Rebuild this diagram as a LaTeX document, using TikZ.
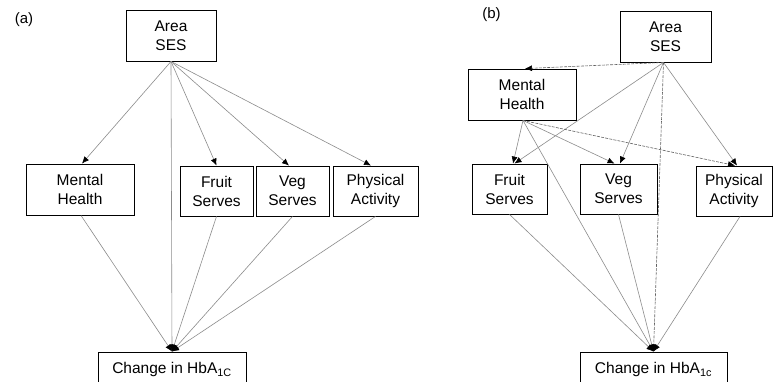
\documentclass[tikz,border=0pt]{standalone}
\usepackage{fontspec}
\setmainfont{Liberation Sans}
\usetikzlibrary{arrows.meta}
\begin{document}
\begin{tikzpicture}[x=1pt,y=-1pt,
  box/.style={draw=black,line width=0.9pt,fill=white,align=center,inner sep=0pt,
    font=\fontsize{15.5}{19}\selectfont,minimum height=51pt},
  edge/.style={draw=black!45,line width=0.6pt,-{Latex[length=7pt,width=6pt,color=black]}},
  dedge/.style={edge,draw=black!62,dash pattern=on 3pt off 1.2pt},
  lab/.style={font=\fontsize{15}{17}\selectfont,inner sep=0pt}]
\useasboundingbox (0,0) rectangle (773,381);
\clip (0,0) rectangle (773,381);
\fill[white] (0,0) rectangle (773,381);
% ---------- panel (a)
\node[lab] (la) at (24,20) {(a)};
\node[box,minimum width=90pt] (ASa) at (171,35.5) {Area\\SES};
\node[box,minimum width=108pt,minimum height=51pt] (MHa) at (80,189.5) {Mental\\Health};
\node[box,minimum width=73pt,minimum height=50pt] (FSa) at (216.5,191) {Fruit\\Serves};
\node[box,minimum width=73pt,minimum height=50pt] (VSa) at (292.5,191) {Veg\\Serves};
\node[box,minimum width=85pt,minimum height=50pt] (PAa) at (375.5,191) {Physical\\Activity};
\node[box,minimum width=148pt] (CHa) at (172,377.5) {Change in HbA\textsubscript{1C}\\\mbox{}};
\draw[edge] (ASa.south) -- ([xshift=2pt]MHa.north);
\draw[edge] (ASa.south) -- (FSa.north);
\draw[edge] (ASa.south) -- ([xshift=-3.5pt]VSa.north);
\draw[edge] (ASa.south) -- ([xshift=-4.5pt]PAa.north);
\draw[edge] (ASa.south) -- (CHa.north);
\draw[edge] ([xshift=1pt]MHa.south) -- (CHa.north);
\draw[edge] (FSa.south) -- (CHa.north);
\draw[edge] (VSa.south) -- (CHa.north);
\draw[edge] (PAa.south) -- (CHa.north);
% ---------- panel (b)
\node[lab] (lb) at (491.5,14.5) {(b)};
\node[box,minimum width=91pt] (ASb) at (665.5,36.5) {Area\\SES};
\node[box,minimum width=108pt] (MHb) at (522,94.5) {Mental\\Health};
\node[box,minimum width=75pt,minimum height=50pt] (FSb) at (509.5,189) {Fruit\\Serves};
\node[box,minimum width=77pt,minimum height=50pt] (VSb) at (618.5,189) {Veg\\Serves};
\node[box,minimum width=76pt,minimum height=50pt] (PAb) at (734,191) {Physical\\Activity};
\node[box,minimum width=147pt] (CHb) at (653.5,377.5) {Change in HbA\textsubscript{1c}\\\mbox{}};
\draw[dedge] ([xshift=-2pt]ASb.south) -- ([xshift=3pt]MHb.north);
\draw[edge] ([xshift=-2pt]ASb.south) -- ([xshift=5pt]FSb.north);
\draw[edge] ([xshift=-2pt]ASb.south) -- ([xshift=1.5pt]VSb.north);
\draw[edge] ([xshift=-2pt]ASb.south) -- ([xshift=3pt]PAb.north);
\draw[dedge] ([xshift=-2pt]ASb.south) -- (CHb.north);
\draw[edge] ([xshift=1pt]MHb.south) -- ([xshift=3.5pt]FSb.north);
\draw[edge] ([xshift=1pt]MHb.south) -- ([xshift=-4pt]VSb.north);
\draw[dedge] ([xshift=1pt]MHb.south) -- ([xshift=1pt]PAb.north);
\draw[edge] ([xshift=1pt]MHb.south) -- (CHb.north);
\draw[edge] (FSb.south) -- (CHb.north);
\draw[edge] (VSb.south) -- (CHb.north);
\draw[edge] ([xshift=6pt]PAb.south) -- (CHb.north);
\end{tikzpicture}
\end{document}
